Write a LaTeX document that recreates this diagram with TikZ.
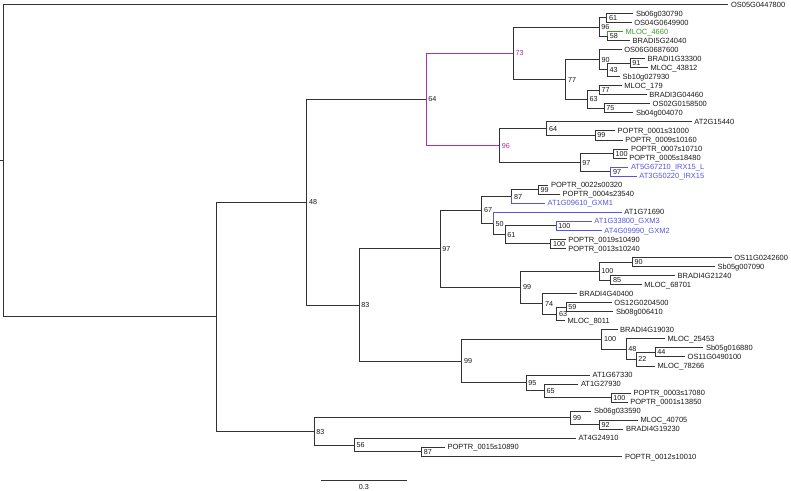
\documentclass[tikz,border=0pt]{standalone}
\usepackage{fontspec}
\setmainfont{Liberation Sans}
\newcommand\tipfont{\fontsize{7.5}{8}\selectfont}
\newcommand\bsfont{\fontsize{7.2}{8}\selectfont}
\definecolor{mag}{RGB}{170,51,170}
\definecolor{grn}{RGB}{60,155,40}
\definecolor{blu}{RGB}{85,85,225}
\tikzset{
  br/.style={draw=black!80, line width=0.8pt},
  tip/.style={anchor=base west, inner sep=0pt, xshift=2.5pt, yshift=-2.7pt, font=\tipfont, text=black!90},
  bs/.style={anchor=base west, inner sep=0pt, xshift=2.2pt, yshift=-2.6pt, font=\bsfont, text=black!90},
}
\begin{document}
\begin{tikzpicture}[x=1pt,y=-1pt]
\useasboundingbox (0,0) rectangle (791,490);
% tips
\coordinate (t0) at (728.3,4.3);
\coordinate (t1) at (633.3,13.34);
\coordinate (t2) at (631.7,22.38);
\coordinate (t3) at (623,31.42);
\coordinate (t4) at (630,40.46);
\coordinate (t5) at (621.7,49.5);
\coordinate (t6) at (645,58.54);
\coordinate (t7) at (648,67.58);
\coordinate (t8) at (620,76.62);
\coordinate (t9) at (621.7,85.66);
\coordinate (t10) at (646.7,94.7);
\coordinate (t11) at (650,103.74);
\coordinate (t12) at (633.3,112.78);
\coordinate (t13) at (691.7,121.82);
\coordinate (t14) at (615,130.86);
\coordinate (t15) at (622.7,139.9);
\coordinate (t16) at (628.3,148.94);
\coordinate (t17) at (626.7,157.98);
\coordinate (t18) at (628.3,167.02);
\coordinate (t19) at (636.7,176.06);
\coordinate (t20) at (548.3,185.1);
\coordinate (t21) at (560,194.14);
\coordinate (t22) at (545,203.18);
\coordinate (t23) at (621.7,212.22);
\coordinate (t24) at (591.7,221.26);
\coordinate (t25) at (601.7,230.3);
\coordinate (t26) at (565.7,239.34);
\coordinate (t27) at (565.7,248.38);
\coordinate (t28) at (731.7,257.42);
\coordinate (t29) at (715,266.46);
\coordinate (t30) at (675,275.5);
\coordinate (t31) at (641.7,284.54);
\coordinate (t32) at (576.7,293.58);
\coordinate (t33) at (611.7,302.62);
\coordinate (t34) at (613.3,311.66);
\coordinate (t35) at (565,320.7);
\coordinate (t36) at (617.5,329.74);
\coordinate (t37) at (665,338.78);
\coordinate (t38) at (703.3,347.82);
\coordinate (t39) at (685,356.86);
\coordinate (t40) at (655,365.9);
\coordinate (t41) at (590,374.94);
\coordinate (t42) at (578.3,383.98);
\coordinate (t43) at (631,393.02);
\coordinate (t44) at (627.6,402.06);
\coordinate (t45) at (591.4,411.1);
\coordinate (t46) at (638,420.14);
\coordinate (t47) at (623.4,429.18);
\coordinate (t48) at (575.9,438.22);
\coordinate (t49) at (444.8,447.26);
\coordinate (t50) at (622.4,456.3);
% internal nodes
\coordinate (n61) at (606.7,17.86);
\coordinate (n58) at (607.5,35.94);
\coordinate (n96a) at (599,26.9);
\coordinate (n91) at (630,63.06);
\coordinate (n43) at (607.3,69.84);
\coordinate (n90) at (599.3,59.67);
\coordinate (n77b) at (599.3,90.18);
\coordinate (n75) at (604,108.26);
\coordinate (n63a) at (587.3,99.22);
\coordinate (n77) at (565.7,79.45);
\coordinate (n73) at (513.3,53.18);
\coordinate (n99a) at (595,135.38);
\coordinate (n64b) at (546.7,128.6);
\coordinate (n100a) at (613.3,153.46);
\coordinate (n97b) at (610.7,171.54);
\coordinate (n97a) at (580,162.5);
\coordinate (n96b) at (499.5,145.55);
\coordinate (n64) at (426,99.37);
\coordinate (n99b) at (538.3,189.62);
\coordinate (n87) at (511.7,196.4);
\coordinate (n100b) at (556,225.78);
\coordinate (n100c) at (550.7,243.86);
\coordinate (n61b) at (505,234.82);
\coordinate (n50) at (493.3,223.52);
\coordinate (n67) at (481.7,209.96);
\coordinate (n90b) at (632.3,261.94);
\coordinate (n85) at (610.7,280.02);
\coordinate (n100d) at (599,270.98);
\coordinate (n59) at (566,307.14);
\coordinate (n63b) at (556.7,313.92);
\coordinate (n74) at (542.7,303.75);
\coordinate (n99c) at (520.7,287.37);
\coordinate (n97c) at (440,248.67);
\coordinate (n44) at (655,352.34);
\coordinate (n22) at (636,359.12);
\coordinate (n48b) at (626,348.95);
\coordinate (n100e) at (601.7,339.35);
\coordinate (n100f) at (611,397.54);
\coordinate (n65) at (544.1,390.76);
\coordinate (n95) at (526,382.85);
\coordinate (n99d) at (461.7,361.1);
\coordinate (n83a) at (359,304.9);
\coordinate (n48) at (306.7,202.1);
\coordinate (n92) at (599.3,424.66);
\coordinate (n99e) at (570.7,417.88);
\coordinate (n87b) at (421.4,451.78);
\coordinate (n56) at (354.1,445);
\coordinate (n83b) at (314,431.44);
\coordinate (n0) at (216.7,316.8);
\coordinate (root) at (3.3,160.5);
\coordinate (stub) at (0,160.5);
% branches
\draw[br] (stub) -- (root);
\draw[br] (root) |- (t0);
\draw[br] (root) |- (n0);
\draw[br] (n0) |- (n48);
\draw[br] (n0) |- (n83b);
\draw[br] (n48) |- (n64);
\draw[br] (n48) |- (n83a);
\draw[br,draw=mag] (n64) |- (n73);
\draw[br,draw=mag] (n64) |- (n96b);
\draw[br] (n73) |- (n96a);
\draw[br] (n73) |- (n77);
\draw[br] (n96a) |- (n61);
\draw[br] (n96a) |- (n58);
\draw[br] (n61) |- (t1);
\draw[br] (n61) |- (t2);
\draw[br] (n58) |- (t4);
\draw[br,draw=grn] (n58) |- (t3);
\draw[br] (n77) |- (n90);
\draw[br] (n77) |- (n63a);
\draw[br] (n90) |- (t5);
\draw[br] (n90) |- (n43);
\draw[br] (n43) |- (n91);
\draw[br] (n43) |- (t8);
\draw[br] (n91) |- (t6);
\draw[br] (n91) |- (t7);
\draw[br] (n63a) |- (n77b);
\draw[br] (n63a) |- (n75);
\draw[br] (n77b) |- (t9);
\draw[br] (n77b) |- (t10);
\draw[br] (n75) |- (t11);
\draw[br] (n75) |- (t12);
\draw[br] (n96b) |- (n64b);
\draw[br] (n96b) |- (n97a);
\draw[br] (n64b) |- (t13);
\draw[br] (n64b) |- (n99a);
\draw[br] (n99a) |- (t14);
\draw[br] (n99a) |- (t15);
\draw[br] (n97a) |- (n100a);
\draw[br] (n97a) |- (n97b);
\draw[br] (n100a) |- (t16);
\draw[br] (n100a) |- (t17);
\draw[br,draw=blu] (n97b) |- (t18);
\draw[br,draw=blu] (n97b) |- (t19);
\draw[br] (n83a) |- (n97c);
\draw[br] (n83a) |- (n99d);
\draw[br] (n97c) |- (n67);
\draw[br] (n97c) |- (n99c);
\draw[br] (n67) |- (n87);
\draw[br] (n67) |- (n50);
\draw[br] (n87) |- (n99b);
\draw[br,draw=blu] (n87) |- (t22);
\draw[br] (n99b) |- (t20);
\draw[br] (n99b) |- (t21);
\draw[br] (n50) |- (n61b);
\draw[br,draw=blu] (n50) |- (t23);
\draw[br] (n61b) |- (n100b);
\draw[br] (n61b) |- (n100c);
\draw[br,draw=blu] (n100b) |- (t24);
\draw[br,draw=blu] (n100b) |- (t25);
\draw[br] (n100c) |- (t26);
\draw[br] (n100c) |- (t27);
\draw[br] (n99c) |- (n100d);
\draw[br] (n99c) |- (n74);
\draw[br] (n100d) |- (n90b);
\draw[br] (n100d) |- (n85);
\draw[br] (n90b) |- (t28);
\draw[br] (n90b) |- (t29);
\draw[br] (n85) |- (t30);
\draw[br] (n85) |- (t31);
\draw[br] (n74) |- (t32);
\draw[br] (n74) |- (n63b);
\draw[br] (n63b) |- (n59);
\draw[br] (n63b) |- (t35);
\draw[br] (n59) |- (t33);
\draw[br] (n59) |- (t34);
\draw[br] (n99d) |- (n100e);
\draw[br] (n99d) |- (n95);
\draw[br] (n100e) |- (t36);
\draw[br] (n100e) |- (n48b);
\draw[br] (n48b) |- (t37);
\draw[br] (n48b) |- (n22);
\draw[br] (n22) |- (n44);
\draw[br] (n22) |- (t40);
\draw[br] (n44) |- (t38);
\draw[br] (n44) |- (t39);
\draw[br] (n95) |- (t41);
\draw[br] (n95) |- (n65);
\draw[br] (n65) |- (t42);
\draw[br] (n65) |- (n100f);
\draw[br] (n100f) |- (t43);
\draw[br] (n100f) |- (t44);
\draw[br] (n83b) |- (n99e);
\draw[br] (n83b) |- (n56);
\draw[br] (n99e) |- (t45);
\draw[br] (n99e) |- (n92);
\draw[br] (n92) |- (t46);
\draw[br] (n92) |- (t47);
\draw[br] (n56) |- (t48);
\draw[br] (n56) |- (n87b);
\draw[br] (n87b) |- (t49);
\draw[br] (n87b) |- (t50);
% tip labels
\node[tip] (l0) at (t0) {OS05G0447800};
\node[tip] (l1) at (t1) {Sb06g030790};
\node[tip] (l2) at (t2) {OS04G0649900};
\node[tip,text=grn] (l3) at (t3) {MLOC\_4660};
\node[tip] (l4) at (t4) {BRADI5G24040};
\node[tip] (l5) at (t5) {OS06G0687600};
\node[tip] (l6) at (t6) {BRADI1G33300};
\node[tip] (l7) at (t7) {MLOC\_43812};
\node[tip] (l8) at (t8) {Sb10g027930};
\node[tip] (l9) at (t9) {MLOC\_179};
\node[tip] (l10) at (t10) {BRADI3G04460};
\node[tip] (l11) at (t11) {OS02G0158500};
\node[tip] (l12) at (t12) {Sb04g004070};
\node[tip] (l13) at (t13) {AT2G15440};
\node[tip] (l14) at (t14) {POPTR\_0001s31000};
\node[tip] (l15) at (t15) {POPTR\_0009s10160};
\node[tip] (l16) at (t16) {POPTR\_0007s10710};
\node[tip] (l17) at (t17) {POPTR\_0005s18480};
\node[tip,text=blu] (l18) at (t18) {AT5G67210\_IRX15\_L};
\node[tip,text=blu] (l19) at (t19) {AT3G50220\_IRX15};
\node[tip] (l20) at (t20) {POPTR\_0022s00320};
\node[tip] (l21) at (t21) {POPTR\_0004s23540};
\node[tip,text=blu] (l22) at (t22) {AT1G09610\_GXM1};
\node[tip] (l23) at (t23) {AT1G71690};
\node[tip,text=blu] (l24) at (t24) {AT1G33800\_GXM3};
\node[tip,text=blu] (l25) at (t25) {AT4G09990\_GXM2};
\node[tip] (l26) at (t26) {POPTR\_0019s10490};
\node[tip] (l27) at (t27) {POPTR\_0013s10240};
\node[tip] (l28) at (t28) {OS11G0242600};
\node[tip] (l29) at (t29) {Sb05g007090};
\node[tip] (l30) at (t30) {BRADI4G21240};
\node[tip] (l31) at (t31) {MLOC\_68701};
\node[tip] (l32) at (t32) {BRADI4G40400};
\node[tip] (l33) at (t33) {OS12G0204500};
\node[tip] (l34) at (t34) {Sb08g006410};
\node[tip] (l35) at (t35) {MLOC\_8011};
\node[tip] (l36) at (t36) {BRADI4G19030};
\node[tip] (l37) at (t37) {MLOC\_25453};
\node[tip] (l38) at (t38) {Sb05g016880};
\node[tip] (l39) at (t39) {OS11G0490100};
\node[tip] (l40) at (t40) {MLOC\_78266};
\node[tip] (l41) at (t41) {AT1G67330};
\node[tip] (l42) at (t42) {AT1G27930};
\node[tip] (l43) at (t43) {POPTR\_0003s17080};
\node[tip] (l44) at (t44) {POPTR\_0001s13850};
\node[tip] (l45) at (t45) {Sb06g033590};
\node[tip] (l46) at (t46) {MLOC\_40705};
\node[tip] (l47) at (t47) {BRADI4G19230};
\node[tip] (l48) at (t48) {AT4G24910};
\node[tip] (l49) at (t49) {POPTR\_0015s10890};
\node[tip] (l50) at (t50) {POPTR\_0012s10010};
% bootstrap labels
\node[bs] (b61) at (n61) {61};
\node[bs] (b58) at (n58) {58};
\node[bs] (b96a) at (n96a) {96};
\node[bs] (b91) at (n91) {91};
\node[bs] (b43) at (n43) {43};
\node[bs] (b90) at (n90) {90};
\node[bs] (b77b) at (n77b) {77};
\node[bs] (b75) at (n75) {75};
\node[bs] (b63a) at (n63a) {63};
\node[bs] (b77) at (n77) {77};
\node[bs,text=mag] (b73) at (n73) {73};
\node[bs] (b99a) at (n99a) {99};
\node[bs] (b64b) at (n64b) {64};
\node[bs] (b100a) at (n100a) {100};
\node[bs] (b97b) at (n97b) {97};
\node[bs] (b97a) at (n97a) {97};
\node[bs,text=mag] (b96b) at (n96b) {96};
\node[bs] (b64) at (n64) {64};
\node[bs] (b99b) at (n99b) {99};
\node[bs] (b87) at (n87) {87};
\node[bs] (b100b) at (n100b) {100};
\node[bs] (b100c) at (n100c) {100};
\node[bs] (b61b) at (n61b) {61};
\node[bs] (b50) at (n50) {50};
\node[bs] (b67) at (n67) {67};
\node[bs] (b90b) at (n90b) {90};
\node[bs] (b85) at (n85) {85};
\node[bs] (b100d) at (n100d) {100};
\node[bs] (b59) at (n59) {59};
\node[bs] (b63b) at (n63b) {63};
\node[bs] (b74) at (n74) {74};
\node[bs] (b99c) at (n99c) {99};
\node[bs] (b97c) at (n97c) {97};
\node[bs] (b44) at (n44) {44};
\node[bs] (b22) at (n22) {22};
\node[bs] (b48b) at (n48b) {48};
\node[bs] (b100e) at (n100e) {100};
\node[bs] (b100f) at (n100f) {100};
\node[bs] (b65) at (n65) {65};
\node[bs] (b95) at (n95) {95};
\node[bs] (b99d) at (n99d) {99};
\node[bs] (b83a) at (n83a) {83};
\node[bs] (b48) at (n48) {48};
\node[bs] (b92) at (n92) {92};
\node[bs] (b99e) at (n99e) {99};
\node[bs] (b87b) at (n87b) {87};
\node[bs] (b56) at (n56) {56};
\node[bs] (b83b) at (n83b) {83};
% scale bar
\coordinate (sb1) at (320.7,480);
\coordinate (sb2) at (406.9,480);
\draw[br] (sb1) -- (sb2);
\node[font=\bsfont, inner sep=0pt, text=black!90] (sbl) at (363.8,486.8) {0.3};
\end{tikzpicture}
\end{document}
